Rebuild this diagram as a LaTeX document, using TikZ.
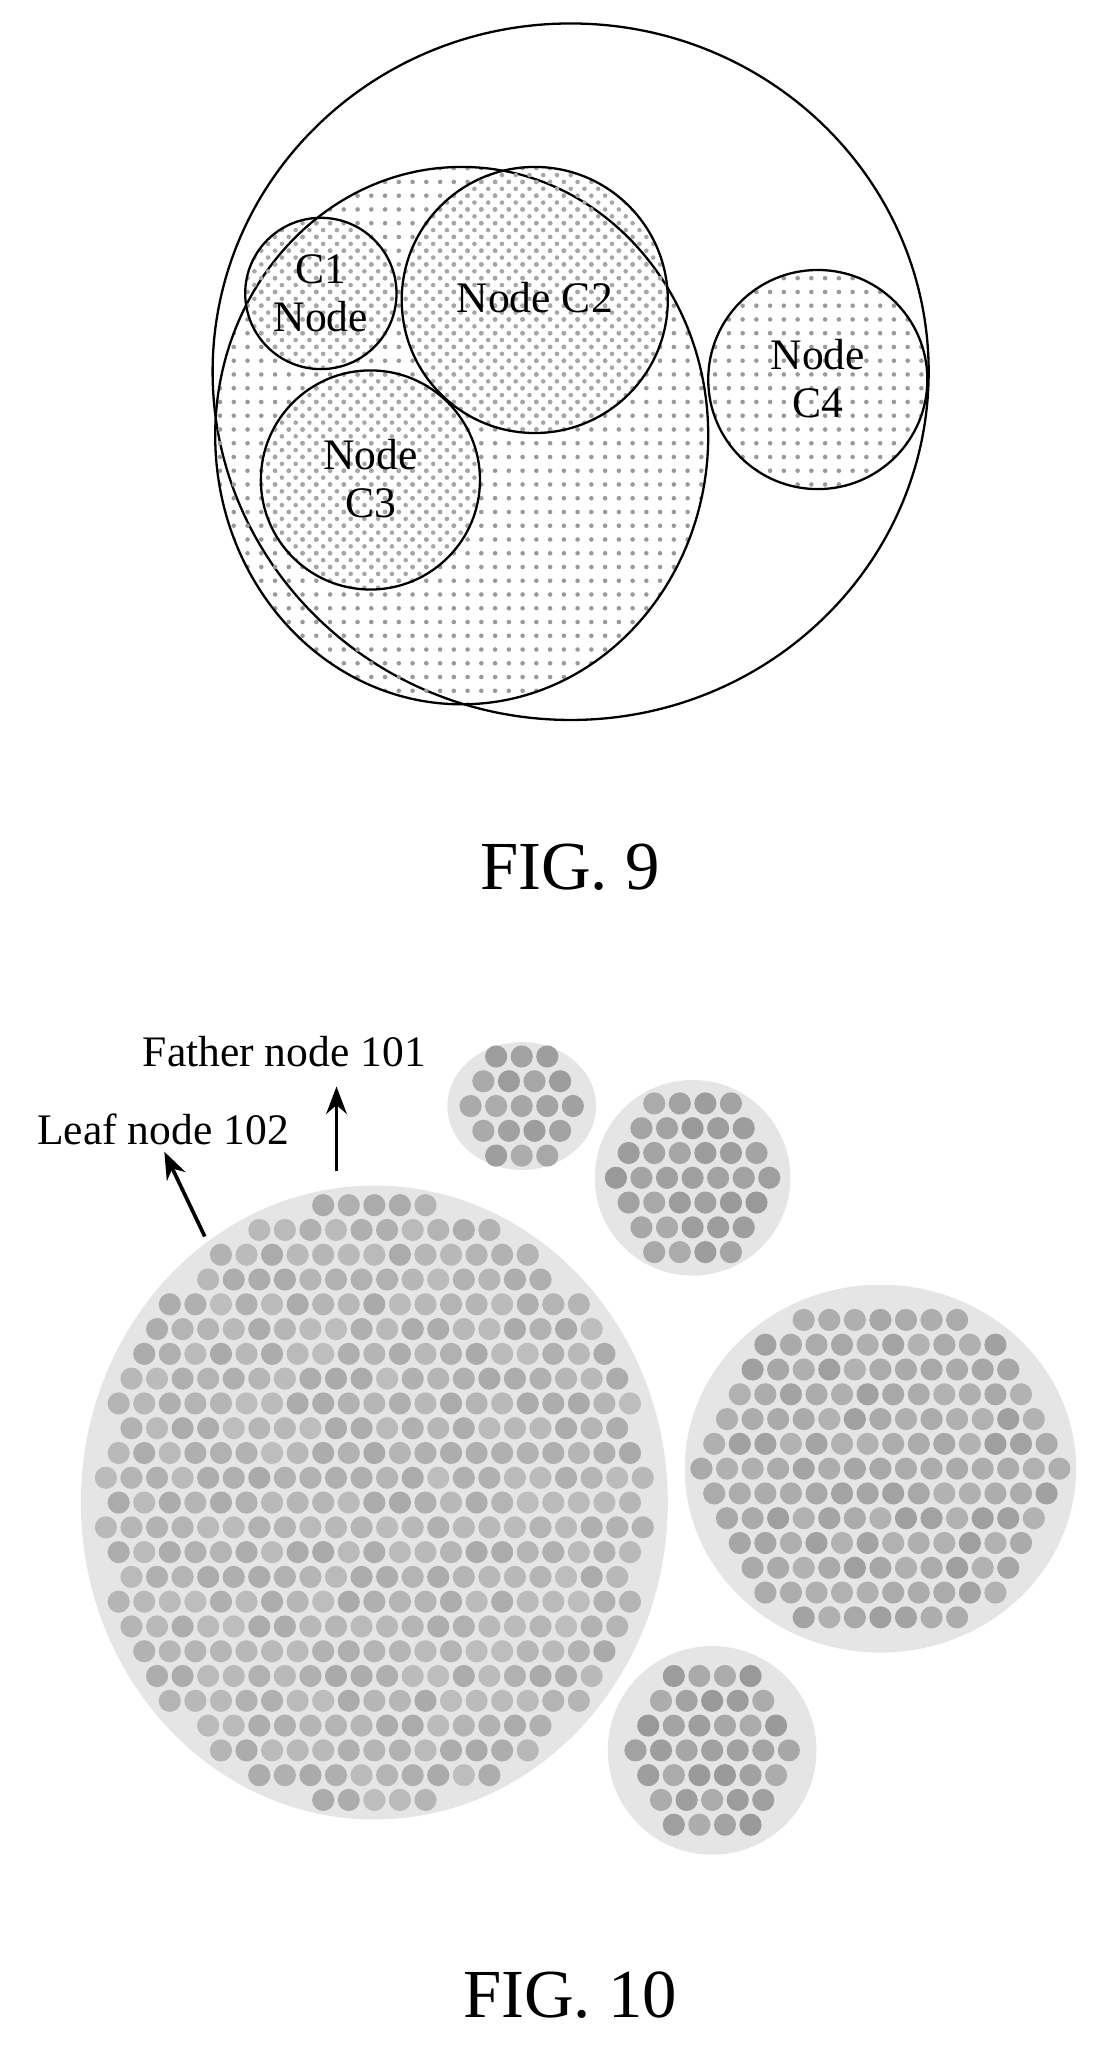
\documentclass[tikz,border=0pt]{standalone}
\usepackage{fontspec}
\setmainfont{Liberation Serif}
\usetikzlibrary{arrows.meta,patterns}
\tikzset{
  bubble/.style={draw=black, line width=0.5pt},
  halo/.style={fill=gray!20},
  lbl/.style={font=\fontsize{9.5}{10.5}\selectfont, align=center, inner sep=0pt},
  fig/.style={font=\fontsize{15}{16}\selectfont}
}
% hexagonal cluster of leaf dots: centre x, centre y, x radius, y radius, base shade
\newcommand\leafgrid[5]{%
  \foreach \j in {-14,...,14}{\foreach \i in {-13,...,13}{%
    \pgfmathsetmacro\px{(\i+0.5*mod(abs(\j),2))*19.6}
    \pgfmathsetmacro\py{\j*19.0}
    \pgfmathsetmacro\dd{veclen(\px/#3,\py/#4)}
    \pgfmathsetmacro\sh{int(#5+rnd*16)}
    \ifdim\dd pt<1pt \fill[gray!\sh] (#1+\px,#2+\py) circle (8.5);\fi}}}

\begin{document}
\begin{tikzpicture}[x=0.1mm,y=-0.1mm]
\useasboundingbox (0,0) rectangle (838,1584);
\pgfmathsetseed{7}
% FIG. 9
\draw[bubble] (437.5,285) ellipse [x radius=274.5, y radius=267];
\draw[bubble, pattern=dots, pattern color=gray!80] (354,334) ellipse [x radius=189, y radius=206];
\draw[bubble, pattern=crosshatch dots, pattern color=gray!70] (246,225) circle (58);
\draw[bubble, pattern=crosshatch dots, pattern color=gray!70] (410,230) circle (102);
\draw[bubble, pattern=crosshatch dots, pattern color=gray!70] (284,368) circle (84);
\draw[bubble, pattern=dots, pattern color=gray!80] (627,291) circle (84);
\node[lbl] (c1) at (246,225) {C1\\Node};
\node[lbl] (c2) at (410,228) {Node C2};
\node[lbl] (c3) at (284,367) {Node\\C3};
\node[lbl] (c4) at (627,290) {Node\\C4};
\node[fig] (fig9) at (437,665) {FIG. 9};
% FIG. 10
\fill[halo] (287,1152) ellipse [x radius=225, y radius=243];
\fill[halo] (400,848) ellipse [x radius=57, y radius=49];
\fill[halo] (531,903) circle (75);
\fill[halo] (675,1126) ellipse [x radius=150, y radius=141];
\fill[halo] (546,1342) circle (80);
\leafgrid{287}{1152}{212}{236}{52}
\leafgrid{400}{848}{46}{44}{65}
\leafgrid{531}{903}{62}{66}{65}
\leafgrid{675}{1126}{140}{132}{60}
\leafgrid{546}{1342}{68}{72}{65}
\node[lbl] (father) at (218,806) {Father node 101};
\node[lbl] (leaf) at (125,866) {Leaf node 102};
\coordinate (fatherfoot) at (258,898);
\coordinate (leaffoot) at (157,948);
\draw[-{Stealth[length=6pt]}, line width=0.8pt] (fatherfoot) -- (258,833);
\draw[-{Stealth[length=6pt]}, line width=0.8pt] (leaffoot) -- (126,883);
\node[fig] (fig10) at (437,1530) {FIG. 10};
\end{tikzpicture}
\end{document}
